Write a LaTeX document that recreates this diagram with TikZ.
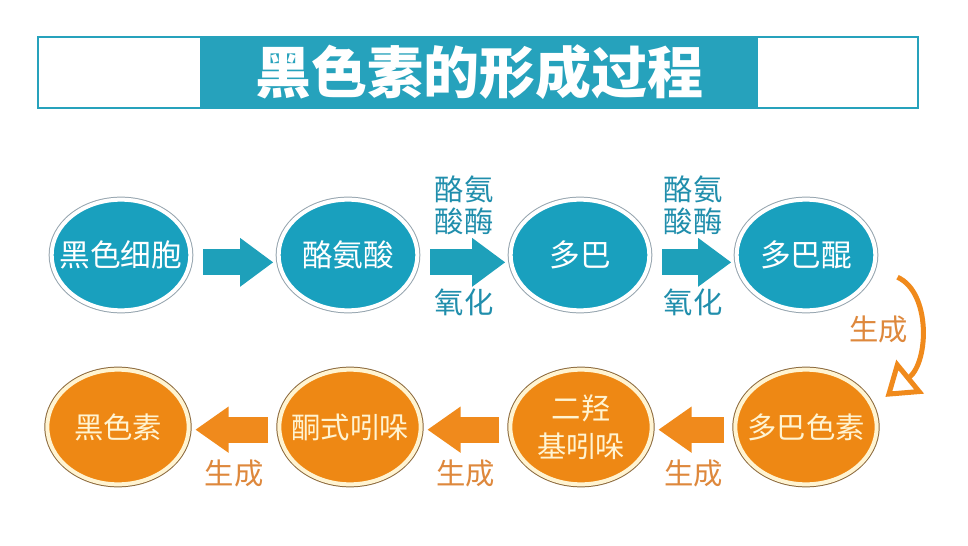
\documentclass[tikz,border=0pt]{standalone}
\usepackage{fontspec}
\newfontfamily\cjk{Noto Sans CJK SC}
\usetikzlibrary{shapes.geometric,arrows.meta}

\definecolor{bandteal}{RGB}{38,162,188}
\definecolor{cellteal}{RGB}{25,160,190}
\definecolor{arrowteal}{RGB}{30,160,186}
\definecolor{labelteal}{RGB}{32,142,172}
\definecolor{ringgray}{RGB}{150,165,175}
\definecolor{pigorange}{RGB}{238,136,20}
\definecolor{arroworange}{RGB}{240,138,28}
\definecolor{labelorange}{RGB}{222,136,60}
\definecolor{ringbrown}{RGB}{140,105,60}
\definecolor{cream}{RGB}{255,244,210}

\tikzset{
  bluecell/.style={ellipse, inner xsep=-12pt, inner ysep=0pt, minimum width=104pt, minimum height=83pt,
    fill=cellteal, draw=white, line width=3pt, preaction={draw=ringgray, line width=4.5pt},
    text=white, font=\cjk\fontsize{23}{27}\selectfont},
  orangecell/.style={ellipse, inner xsep=-12pt, inner ysep=0pt, align=center, minimum width=106pt, minimum height=86pt,
    fill=pigorange, draw=cream, line width=3pt, preaction={draw=ringbrown, line width=4.5pt},
    text=cream, font=\cjk\fontsize{22}{28.5}\selectfont},
  bluearrow/.style={draw=arrowteal, line width=19.5pt, -{Triangle[length=25pt,width=35pt]},
    shorten <=8pt, shorten >=2.5pt},
  orangearrow/.style={draw=arroworange, line width=19.5pt, -{Triangle[length=25pt,width=33pt]},
    shorten <=7pt, shorten >=3.5pt},
  steplabel/.style={inner sep=0pt, align=center, text=labelteal, font=\cjk\fontsize{22}{23.5}\selectfont},
  makelabel/.style={inner sep=0pt, text=labelorange, font=\cjk\fontsize{22}{22}\selectfont}
}

\begin{document}
\begin{tikzpicture}[x=0.75pt,y=0.75pt,yscale=-1,xscale=1]
%set diagram to the full 968 x 546 frame
\useasboundingbox[fill=white] (0,0) rectangle (968,546);

%Title frame
\draw [draw=bandteal, line width=1.5pt] (38,37) rectangle (918,108) ;
% Title band
\node [fill=bandteal, minimum width=418.5pt, minimum height=53.25pt, inner sep=0pt,
  text=white, font=\cjk\bfseries\fontsize{42}{42}\selectfont] (title) at (479,72.5) {黑色素的形成过程};

% Upper row
\node [bluecell] (cell) at (121,255) {黑色细胞};
\node [bluecell] (tyr) at (348,255) {酪氨酸};
\node [bluecell] (dopa) at (580,255) {多巴};
\node [bluecell] (quin) at (806,255) {多巴醌};

% Lower row
\node [orangecell] (mel) at (118,427) {黑色素};
\node [orangecell] (keto) at (350,427) {酮式吲哚};
\node [orangecell] (dhi) at (581,427) {二羟\\基吲哚};
\node [orangecell] (chrome) at (806,427) {多巴色素};

% Upper arrows
\draw [bluearrow] ([yshift=5.5pt]cell.east) -- ([yshift=5.5pt]tyr.west) ;
\draw [bluearrow] ([yshift=5.5pt]tyr.east) -- ([yshift=5.5pt]dopa.west)
  node [steplabel, midway, above=11pt] (enz1) {酪氨\\酸酶}
  node [steplabel, midway, below=10pt] (ox1) {氧化} ;
\draw [bluearrow] ([yshift=5.5pt]dopa.east) -- ([yshift=5.5pt]quin.west)
  node [steplabel, midway, above=11pt] (enz2) {酪氨\\酸酶}
  node [steplabel, midway, below=10pt] (ox2) {氧化} ;

% Turning arrow
\draw [draw=arroworange, line width=3.75pt, -{Triangle[length=24pt,width=32pt,fill=white]},
  shorten <=18pt, shorten >=11pt]
  (quin.-10) .. controls +(55,25) and +(55,-45) .. (chrome.17)
  node [makelabel, pos=0.5, left=4pt] (make0) {生成} ;

% Lower arrows
\draw [orangearrow] ([yshift=2pt]chrome.west) -- ([yshift=2pt]dhi.east)
  node [makelabel, midway, below=13pt] (make1) {生成} ;
\draw [orangearrow] ([yshift=2pt]dhi.west) -- ([yshift=2pt]keto.east)
  node [makelabel, midway, below=13pt] (make2) {生成} ;
\draw [orangearrow] ([yshift=2pt]keto.west) -- ([yshift=2pt]mel.east)
  node [makelabel, midway, below=13pt] (make3) {生成} ;

\end{tikzpicture}
\end{document}
